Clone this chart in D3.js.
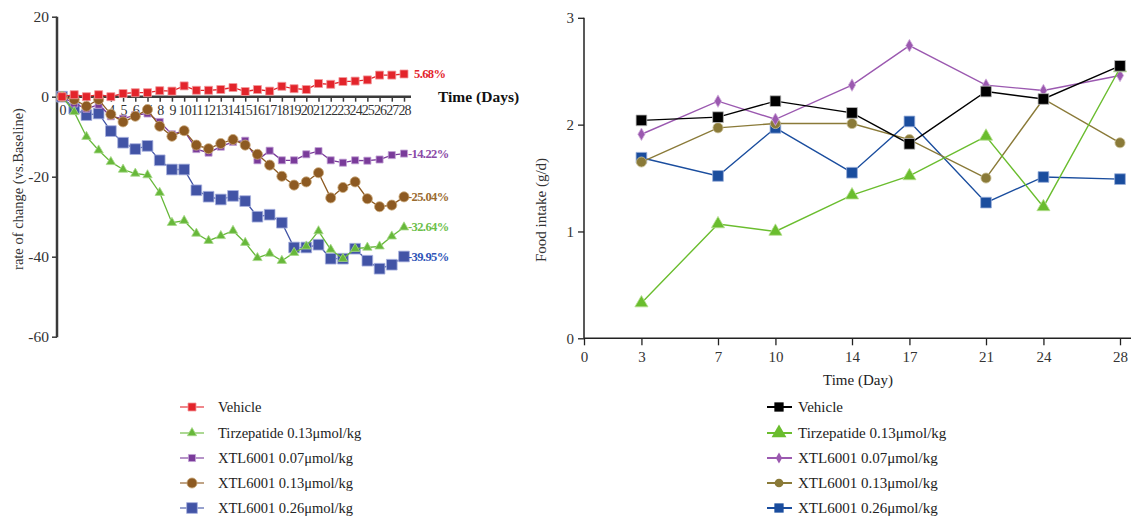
<!DOCTYPE html>
<html><head><meta charset="utf-8">
<script src="https://cdn.jsdelivr.net/npm/d3@7"></script>
<style>
body{margin:0;background:#fff;}
svg{display:block;}
text{font-family:"Liberation Serif","DejaVu Serif",serif;}
</style></head>
<body><svg id="c" width="1131" height="517"></svg>
<script>
// ---------- LEFT CHART DATA ----------
const days = d3.range(0, 29);
const leftYTicks = [-60, -40, -20, 0, 20];
const leftNames = ["Vehicle", "Tirzepatide 0.13μmol/kg", "XTL6001 0.07μmol/kg", "XTL6001 0.13μmol/kg", "XTL6001 0.26μmol/kg"];
const vehicleL = [0,0.5,0,0.5,0,0.8,1.0,1.0,1.5,1.4,2.7,1.6,1.6,1.8,2.3,1.3,1.8,1.4,2.6,2.0,1.8,3.3,3.1,3.8,3.9,4.2,5.4,5.4,5.68];
const tirzL = [0,-3.8,-10,-13.4,-16.3,-18.2,-19.2,-19.6,-24,-31.5,-31,-34.2,-36,-34.8,-33.5,-36.5,-40.3,-39.2,-41,-39,-37.4,-33.6,-38.2,-40.5,-38,-37.7,-37.4,-34.9,-32.64];
const xtl07L = [0,-1.7,-3,-2,-4.9,-5.5,-4.6,-4.2,-6.3,-9.4,-8.5,-13.1,-14,-12.5,-11.3,-11,-15.9,-13.5,-15.9,-15.9,-14.4,-13.6,-15.9,-16.5,-15.9,-16,-15.7,-14.6,-14.22];
const xtl13L = [0,-0.7,-2.4,-0.7,-4.4,-6.3,-4.9,-3.2,-7.4,-9.9,-8.5,-12.1,-13,-11.7,-10.7,-12.1,-14.4,-17.1,-19.9,-22.1,-21.3,-19,-25.3,-22.7,-21.3,-25.5,-27.5,-27.1,-25.04];
const xtl26L = [0,-3,-4.6,-4.2,-8.6,-11.5,-13.1,-12.3,-15.9,-18.2,-18.2,-23.4,-25,-25.7,-24.8,-26.1,-30,-29.5,-31.5,-37.7,-37.7,-37,-40.5,-40.5,-38,-41,-43,-42,-39.95];
const leftEndLabels = ["5.68%", "-32.64%", "-14.22%", "-25.04%", "-39.95%"];

// ---------- RIGHT CHART DATA ----------
const rightDays = [3, 7, 10, 14, 17, 21, 24, 28];
const rightXTicks = [0, 3, 7, 10, 14, 17, 21, 24, 28];
const rightYTicks = [0, 1, 2, 3];
const vehicleR = [2.04, 2.07, 2.22, 2.11, 1.82, 2.31, 2.24, 2.55];
const tirzR = [0.33, 1.07, 1.00, 1.34, 1.52, 1.89, 1.23, 2.53];
const xtl07R = [1.91, 2.22, 2.05, 2.37, 2.74, 2.37, 2.32, 2.46];
const xtl13R = [1.65, 1.97, 2.01, 2.01, 1.86, 1.50, 2.24, 1.83];
const xtl26R = [1.69, 1.52, 1.97, 1.55, 2.03, 1.27, 1.51, 1.49];

const svg = d3.select("#c");
const axisCol = "#3a3a3a", txtCol = "#333";
const plainFmt = d => String(d);

// ================= LEFT =================
const xL = d3.scaleLinear().domain([0, 28]).range([62, 404]);
const yL = d3.scaleLinear().domain([-60, 20]).range([336.7, 16.7]);
const gL = svg.append("g");

// y axis
const yAxL = gL.append("g").attr("transform", "translate(57,0)")
  .call(d3.axisLeft(yL).tickValues(leftYTicks).tickSize(5).tickPadding(3).tickFormat(plainFmt));
yAxL.select(".domain").remove();
yAxL.selectAll(".tick line").attr("stroke", axisCol).attr("stroke-width", 1.5);
yAxL.selectAll(".tick text").attr("fill", txtCol).style("font-size", "15.5px").style("font-family", "Liberation Serif, serif");
gL.append("line").attr("x1", 57).attr("x2", 57).attr("y1", yL(20)).attr("y2", yL(-60) + 0.5)
  .attr("stroke", axisCol).attr("stroke-width", 2.5);

// x axis at y=0
const xAxL = gL.append("g").attr("transform", `translate(0,${yL(0)})`)
  .call(d3.axisBottom(xL).tickValues(days).tickSize(5).tickPadding(3).tickFormat(plainFmt));
xAxL.select(".domain").remove();
xAxL.selectAll(".tick line").attr("stroke", axisCol).attr("stroke-width", 1.5);
xAxL.selectAll(".tick text").attr("fill", txtCol).style("font-size", "14px")
  .style("font-family", "Liberation Serif, serif").attr("letter-spacing", "-0.9");
gL.append("line").attr("x1", 57).attr("x2", 411).attr("y1", yL(0)).attr("y2", yL(0))
  .attr("stroke", axisCol).attr("stroke-width", 2.5);

gL.append("text").attr("x", 438).attr("y", 102).attr("fill", "#111")
  .style("font-size", "15.5px").style("font-weight", "bold").text("Time (Days)");
gL.append("text").attr("transform", "translate(23,189) rotate(-90)").attr("text-anchor", "middle")
  .attr("fill", txtCol).style("font-size", "14.5px").text("rate of change (vs.Baseline)");

const leftSeries = [
  {name: leftNames[4], vals: xtl26L, color: "#4254a6", stroke: "#a9b2e0", sym: d3.symbolSquare, size: 115, lbl: leftEndLabels[4], lc: "#2f55b8"},
  {name: leftNames[2], vals: xtl07L, color: "#7a3b9a", stroke: "#c3a3d6", sym: d3.symbolSquare, size: 50, lbl: leftEndLabels[2], lc: "#8a4aa8"},
  {name: leftNames[3], vals: xtl13L, color: "#8d5a22", stroke: "#c9a87a", sym: d3.symbolCircle, size: 80, lbl: leftEndLabels[3], lc: "#9a6b2f"},
  {name: leftNames[1], vals: tirzL, color: "#67b83a", stroke: "#a8d98a", sym: d3.symbolTriangle, size: 38, lbl: leftEndLabels[1], lc: "#6cc04a"},
  {name: leftNames[0], vals: vehicleL, color: "#e3242b", stroke: "#f29a9d", sym: d3.symbolSquare, size: 64, lbl: leftEndLabels[0], lc: "#e3242b"}
];
const lineL = d3.line().x((d, i) => xL(days[i])).y(d => yL(d));
leftSeries.forEach(s => {
  const g = gL.append("g");
  g.append("path").attr("d", lineL(s.vals)).attr("fill", "none").attr("stroke", s.color).attr("stroke-width", 1.3);
  g.selectAll("path.m").data(s.vals).enter().append("path").attr("class", "m")
    .attr("d", d3.symbol().type(s.sym).size(s.size))
    .attr("transform", (d, i) => `translate(${xL(days[i])},${yL(d)})`)
    .attr("fill", s.color).attr("stroke", s.stroke).attr("stroke-width", 0.8);
  const last = s.vals[s.vals.length - 1];
  g.append("text").attr("x", xL(28) + (last > 0 ? 10 : 4)).attr("y", yL(last) + 4)
    .attr("fill", s.lc).style("font-size", "12.5px").style("font-weight", "bold")
    .attr("letter-spacing", "-0.6").text(s.lbl);
});

// left legend
const legRowsY = [407, 433, 458, 483, 508];
const legLOrder = [4, 3, 1, 2, 0];
legLOrder.forEach((si, r) => {
  const s = leftSeries[si];
  const y = legRowsY[r];
  svg.append("line").attr("x1", 180).attr("x2", 204).attr("y1", y).attr("y2", y)
    .attr("stroke", s.color).attr("stroke-opacity", 0.55).attr("stroke-width", 2);
  svg.append("path").attr("d", d3.symbol().type(s.sym).size(s.size)).attr("transform", `translate(192,${y})`)
    .attr("fill", s.color).attr("stroke", s.stroke).attr("stroke-width", 0.8);
  svg.append("text").attr("x", 218).attr("y", y + 5).attr("fill", "#222").style("font-size", "14.5px").text(s.name);
});

// ================= RIGHT =================
const xR = d3.scaleLinear().domain([0, 28]).range([584, 1120]);
const yR = d3.scaleLinear().domain([0, 3]).range([338.3, 17.8]);
const gR = svg.append("g");

const yAxR = gR.append("g").attr("transform", "translate(584,0)")
  .call(d3.axisLeft(yR).tickValues(rightYTicks).tickSize(6).tickPadding(4).tickFormat(plainFmt));
yAxR.select(".domain").remove();
yAxR.selectAll(".tick line").attr("stroke", "#222").attr("stroke-width", 1.3);
yAxR.selectAll(".tick text").attr("fill", txtCol).style("font-size", "15px").style("font-family", "Liberation Serif, serif");
gR.append("line").attr("x1", 584).attr("x2", 584).attr("y1", yR(3)).attr("y2", yR(0))
  .attr("stroke", "#222").attr("stroke-width", 1.5);

const xAxR = gR.append("g").attr("transform", `translate(0,${yR(0)})`)
  .call(d3.axisBottom(xR).tickValues(rightXTicks).tickSize(7).tickPadding(6).tickFormat(plainFmt));
xAxR.select(".domain").remove();
xAxR.selectAll(".tick line").attr("stroke", "#222").attr("stroke-width", 1.3);
xAxR.selectAll(".tick text").attr("fill", txtCol).style("font-size", "15px").style("font-family", "Liberation Serif, serif");
gR.append("line").attr("x1", 584).attr("x2", 1131).attr("y1", yR(0)).attr("y2", yR(0))
  .attr("stroke", "#222").attr("stroke-width", 1.5);

gR.append("text").attr("x", 858).attr("y", 385).attr("text-anchor", "middle").attr("fill", "#222")
  .style("font-size", "15px").text("Time (Day)");
gR.append("text").attr("transform", "translate(546,210) rotate(-90)").attr("text-anchor", "middle")
  .attr("fill", txtCol).style("font-size", "15px").text("Food intake (g/d)");

const rightSeries = [
  {name: leftNames[0], vals: vehicleR, color: "#000000", stroke: "#bbbbbb", sym: d3.symbolSquare, size: 115},
  {name: leftNames[1], vals: tirzR, color: "#6abd2e", stroke: "#b6e090", sym: d3.symbolTriangle, size: 75},
  {name: leftNames[2], vals: xtl07R, color: "#9b59b0", stroke: "#d2b0dc", sym: d3.symbolDiamond, size: 45},
  {name: leftNames[3], vals: xtl13R, color: "#8a7a38", stroke: "#c9bf95", sym: d3.symbolCircle, size: 80},
  {name: leftNames[4], vals: xtl26R, color: "#1a4d9e", stroke: "#9ab0da", sym: d3.symbolSquare, size: 115}
];
const lineR = d3.line().x((d, i) => xR(rightDays[i])).y(d => yR(d));
const drawOrderR = [4, 3, 2, 1, 0];
drawOrderR.forEach(si => {
  const s = rightSeries[si];
  const g = gR.append("g");
  g.append("path").attr("d", lineR(s.vals)).attr("fill", "none").attr("stroke", s.color).attr("stroke-width", 1.4);
  g.selectAll("path.m").data(s.vals).enter().append("path").attr("class", "m")
    .attr("d", d3.symbol().type(s.sym).size(s.size))
    .attr("transform", (d, i) => `translate(${xR(rightDays[i])},${yR(d)})`)
    .attr("fill", s.color).attr("stroke", s.stroke).attr("stroke-width", 0.8);
});

rightSeries.forEach((s, r) => {
  const y = legRowsY[r];
  svg.append("line").attr("x1", 767).attr("x2", 792).attr("y1", y).attr("y2", y)
    .attr("stroke", s.color).attr("stroke-width", 2);
  svg.append("path").attr("d", d3.symbol().type(s.sym).size(s.sym === d3.symbolTriangle ? 95 : s.size * 0.75))
    .attr("transform", `translate(779,${y})`).attr("fill", s.color);
  svg.append("text").attr("x", 798).attr("y", y + 5).attr("fill", "#222").style("font-size", "15px").text(s.name);
});
</script></body></html>
